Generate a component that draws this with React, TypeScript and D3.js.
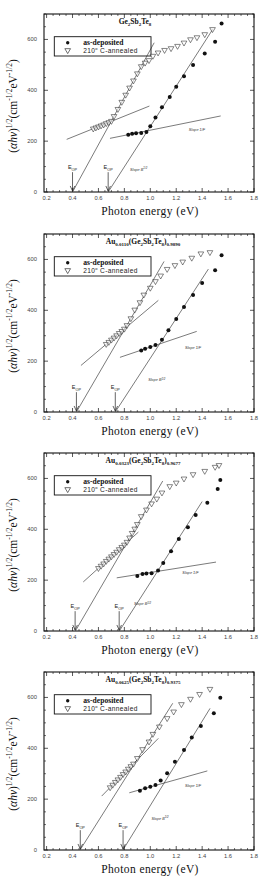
import React from "react";
import * as d3 from "d3";

// axis ticks
const xTicks = [0.2, 0.4, 0.6, 0.8, 1.0, 1.2, 1.4, 1.6, 1.8];
const yTicks = [0, 200, 400, 600];

// panel 1: Ge2Sb2Te8
const asDep1X = [0.83, 0.86, 0.89, 0.93, 0.97, 1.0, 1.04, 1.09, 1.15, 1.2, 1.26, 1.33, 1.42, 1.5, 1.55];
const asDep1Y = [225, 229, 231, 232, 236, 259, 293, 333, 374, 414, 455, 499, 545, 591, 663];
const ann1X = [0.56, 0.58, 0.6, 0.62, 0.64, 0.66, 0.68, 0.7, 0.72, 0.75, 0.78, 0.81, 0.84, 0.87, 0.9, 0.93, 0.96, 0.99, 1.02, 1.06, 1.11, 1.16, 1.21, 1.26, 1.31, 1.36, 1.42, 1.48];
const ann1Y = [249, 253, 257, 261, 265, 270, 274, 279, 298, 326, 354, 382, 410, 438, 466, 494, 508, 518, 535, 548, 558, 565, 574, 587, 600, 608, 620, 640];

// panel 2: Au0.0110
const asDep2X = [0.93, 0.96, 1.0, 1.04, 1.09, 1.14, 1.2, 1.26, 1.33, 1.4, 1.5, 1.55];
const asDep2Y = [242, 249, 256, 263, 284, 321, 366, 413, 460, 507, 557, 616];
const ann2X = [0.66, 0.68, 0.7, 0.72, 0.74, 0.76, 0.78, 0.8, 0.82, 0.85, 0.88, 0.92, 0.95, 1.0, 1.04, 1.08, 1.13, 1.19, 1.25, 1.32, 1.39, 1.46];
const ann2Y = [267, 275, 284, 292, 301, 310, 318, 327, 341, 368, 402, 431, 461, 488, 514, 536, 562, 577, 591, 606, 623, 628];

// panel 3: Au0.0323
const asDep3X = [0.9, 0.94, 0.97, 1.01, 1.06, 1.1, 1.16, 1.22, 1.29, 1.35, 1.44, 1.52, 1.54];
const asDep3Y = [216, 224, 226, 227, 238, 267, 314, 362, 408, 456, 504, 558, 594];
const ann3X = [0.6, 0.62, 0.64, 0.66, 0.68, 0.7, 0.72, 0.74, 0.76, 0.78, 0.8, 0.82, 0.84, 0.86, 0.88, 0.9, 0.93, 0.97, 1.01, 1.05, 1.09, 1.15, 1.2, 1.26, 1.33, 1.42, 1.5, 1.53];
const ann3Y = [247, 256, 265, 275, 284, 293, 302, 311, 321, 330, 339, 350, 367, 385, 402, 420, 451, 477, 501, 520, 544, 569, 583, 599, 616, 629, 645, 652];

// panel 4: Au0.0625
const asDep4X = [0.92, 0.96, 1.0, 1.04, 1.08, 1.13, 1.19, 1.26, 1.32, 1.39, 1.49, 1.54];
const asDep4Y = [233, 243, 249, 256, 273, 302, 347, 393, 442, 488, 538, 599];
const ann4X = [0.69, 0.71, 0.73, 0.75, 0.77, 0.79, 0.81, 0.83, 0.85, 0.87, 0.9, 0.94, 0.99, 1.02, 1.07, 1.13, 1.18, 1.24, 1.31, 1.38, 1.46];
const ann4Y = [246, 256, 267, 277, 287, 298, 308, 319, 329, 339, 361, 396, 426, 456, 485, 518, 544, 573, 594, 613, 633];

// fitted lines [x1, y1, x2, y2]: annealed steep, annealed tangent, as-dep steep, as-dep tangent
const fits1 = [[0.4, 0, 1.03, 587], [0.355, 207, 0.993, 338], [0.675, 0, 1.482, 640], [0.689, 211, 1.543, 299]];
const fits2 = [[0.43, 0, 1.106, 592], [0.465, 183, 1.062, 439], [0.73, 0, 1.448, 562], [0.766, 215, 1.358, 317]];
const fits3 = [[0.422, 0, 1.096, 590], [0.483, 193, 0.908, 389], [0.761, 0, 1.4, 509], [0.741, 209, 1.507, 271]];
const fits4 = [[0.458, 0, 1.173, 577], [0.625, 212, 1.062, 439], [0.789, 0, 1.461, 557], [0.838, 225, 1.44, 311]];

// E_OP arrows
const eop1 = [0.4, 0.675];
const eop2 = [0.43, 0.73];
const eop3 = [0.42, 0.76];
const eop4 = [0.46, 0.79];

// annotation positions [x, y]
const slopeF = [[1.36, 241], [1.33, 248], [1.31, 226], [1.33, 247]];
const slopeB = [[0.91, 84], [1.05, 120], [0.94, 101], [1.075, 118]];

type Seg = { t: string; s?: "sub" | "sup"; i?: boolean };

const gst: Seg[] = [
  { t: "Ge" }, { t: "2", s: "sub" }, { t: "Sb" }, { t: "2", s: "sub" }, { t: "Te" }, { t: "8", s: "sub" },
];
const auTitle = (a: string, b: string): Seg[] => [
  { t: "Au" }, { t: a, s: "sub" }, { t: "(Ge" }, { t: "2", s: "sub" }, { t: "Sb" }, { t: "2", s: "sub" },
  { t: "Te" }, { t: "8", s: "sub" }, { t: ")" }, { t: b, s: "sub" },
];
const titles = [gst, auTitle("0.0110", "0.9890"), auTitle("0.0323", "0.9677"), auTitle("0.0625", "0.9375")];
const titleX = [135, 143, 143, 143];

const yLabel: Seg[] = [
  { t: "(" }, { t: "αhν", i: true }, { t: ")" }, { t: "1/2", s: "sup" }, { t: "(cm" }, { t: "-1/2", s: "sup" },
  { t: "eV" }, { t: "-1/2", s: "sup" }, { t: ")" },
];

const SERIF = "'Liberation Serif', 'DejaVu Serif', serif";
const SANS = "'Liberation Sans', Arial, sans-serif";

const Rich = ({ segs, size, small, ...rest }: any) => {
  let cur = 0;
  return (
    <text {...rest} fontSize={size}>
      {segs.map((sg: Seg, k: number) => {
        const target = sg.s === "sub" ? small * 0.45 : sg.s === "sup" ? -size * 0.42 : 0;
        const dy = target - cur;
        cur = target;
        return (
          <tspan key={k} dy={dy} fontSize={sg.s ? small : size} fontStyle={sg.i ? "italic" : undefined}>
            {sg.t}
          </tspan>
        );
      })}
    </text>
  );
};

const L = 44;
const R = 254;
const PH = 178;

const Panel = ({ idx, top, asX, asY, anX, anY, fits, eop }: any) => {
  const x = d3.scaleLinear().domain([0.18, 1.8]).range([L, R]);
  const y = d3.scaleLinear().domain([0, 700]).range([top + PH, top]);
  const bottom = top + PH;
  const xMinor = d3.range(0.2, 1.8001, 0.05).filter((v) => Math.abs(v * 5 - Math.round(v * 5)) > 0.01);
  const yMinor = d3.range(0, 701, 50).filter((v) => v % 200 !== 0);
  const tri = d3.symbol().type(d3.symbolTriangle).size(14)();
  const stroke = "#222";

  return (
    <g>
      {/* frame */}
      <rect x={L} y={top} width={R - L} height={PH} fill="none" stroke="#111" strokeWidth={1.1} />
      {/* ticks */}
      {xTicks.map((t) => (
        <g key={"xt" + t}>
          <line x1={x(t)} x2={x(t)} y1={bottom} y2={bottom - 4} stroke="#111" strokeWidth={0.7} />
          <line x1={x(t)} x2={x(t)} y1={top} y2={top + 4} stroke="#111" strokeWidth={0.7} />
          <text x={x(t)} y={bottom + 8} fontSize={5.8} textAnchor="middle" fill="#444" fontFamily={SANS}>
            {t.toFixed(1)}
          </text>
        </g>
      ))}
      {xMinor.map((t) => (
        <g key={"xm" + t}>
          <line x1={x(t)} x2={x(t)} y1={bottom} y2={bottom - 2} stroke="#111" strokeWidth={0.6} />
          <line x1={x(t)} x2={x(t)} y1={top} y2={top + 2} stroke="#111" strokeWidth={0.6} />
        </g>
      ))}
      {yTicks.map((t) => (
        <g key={"yt" + t}>
          <line x1={L} x2={L + 4} y1={y(t)} y2={y(t)} stroke="#111" strokeWidth={0.7} />
          <line x1={R} x2={R - 4} y1={y(t)} y2={y(t)} stroke="#111" strokeWidth={0.7} />
          <text x={37} y={y(t) + 2} fontSize={5.8} textAnchor="end" fill="#444" fontFamily={SANS}>
            {t}
          </text>
        </g>
      ))}
      {yMinor.map((t) => (
        <g key={"ym" + t}>
          <line x1={L} x2={L + 2} y1={y(t)} y2={y(t)} stroke="#111" strokeWidth={0.6} />
          <line x1={R} x2={R - 2} y1={y(t)} y2={y(t)} stroke="#111" strokeWidth={0.6} />
        </g>
      ))}

      {/* title */}
      <Rich segs={titles[idx]} size={7.5} small={5} x={titleX[idx]} y={top + 9.5} textAnchor="middle"
        fontWeight="bold" fontFamily={SERIF} fill="#111" />

      {/* legend */}
      <rect x={54.3} y={top + 22.7} width={96.7} height={19.3} fill="white" stroke="#111" strokeWidth={0.9} />
      <circle cx={67.7} cy={top + 28.7} r={1.7} fill="#111" />
      <path d={tri} transform={`translate(67.7,${top + 36.3}) rotate(180)`} fill="white" stroke="#111" strokeWidth={0.6} />
      <text x={83.3} y={top + 31} fontSize={7.6} fontWeight="bold" fontFamily={SERIF} fill="#111">
        as-deposited
      </text>
      <text x={83.3} y={top + 38.6} fontSize={6.6} fontFamily={SANS} fill="#222" letterSpacing={0.35}>
        210<tspan fontSize={4} dy={-2.5}>o</tspan><tspan dy={2.5}> C-annealed</tspan>
      </text>

      {/* fit lines */}
      {fits.map((f: number[], k: number) => (
        <line key={"f" + k} x1={x(f[0])} y1={y(f[1])} x2={x(f[2])} y2={y(f[3])} stroke={stroke} strokeWidth={0.6} />
      ))}

      {/* E_OP arrows */}
      {eop.map((e: number, k: number) => (
        <g key={"e" + k}>
          <line x1={x(e)} x2={x(e)} y1={y(78)} y2={y(4)} stroke={stroke} strokeWidth={0.7} />
          <path d={`M${x(e) - 2.3},${y(4) - 5} L${x(e)},${y(4)} L${x(e) + 2.3},${y(4) - 5}`} fill="none" stroke={stroke} strokeWidth={0.7} />
          <Rich segs={[{ t: "E" }, { t: "OP", s: "sub" }]} size={5.5} small={3.8} x={x(e)} y={y(90)} textAnchor="middle"
            fontFamily={SANS} fill="#222" />
        </g>
      ))}

      {/* slope annotations */}
      <text x={x(slopeF[idx][0])} y={y(slopeF[idx][1])} fontSize={3.8} fontStyle="italic" textAnchor="middle"
        fontFamily={SANS} fill="#333">
        Slope 1/F
      </text>
      <Rich segs={[{ t: "Slope B" }, { t: "1/2", s: "sup" }]} size={3.8} small={2.8} x={x(slopeB[idx][0])} y={y(slopeB[idx][1])}
        textAnchor="middle" fontStyle="italic" fontFamily={SANS} fill="#333" />

      {/* annealed: open down-triangles */}
      {anX.map((v: number, k: number) => (
        <path key={"a" + k} d={tri} transform={`translate(${x(v)},${y(anY[k])}) rotate(180)`} fill="white" fillOpacity={0.6}
          stroke="#222" strokeWidth={0.55} />
      ))}
      {/* as-deposited: filled circles */}
      {asX.map((v: number, k: number) => (
        <circle key={"d" + k} cx={x(v)} cy={y(asY[k])} r={2} fill="#111" />
      ))}

      {/* axis labels */}
      <Rich segs={yLabel} size={11.5} small={7.5} x={0} y={0}
        transform={`translate(17,${top + 92}) rotate(-90)`} textAnchor="middle"
        fontFamily={SERIF} fill="#111" />
      <text x={150} y={bottom + 22.5} fontSize={11.5} textAnchor="middle" letterSpacing={0.4}
        fontFamily={SERIF} fill="#111">
        Photon energy (eV)
      </text>
    </g>
  );
};

const panelTops = [14, 234, 453, 672];

export default function App() {
  const panels = [
    { asX: asDep1X, asY: asDep1Y, anX: ann1X, anY: ann1Y, fits: fits1, eop: eop1 },
    { asX: asDep2X, asY: asDep2Y, anX: ann2X, anY: ann2Y, fits: fits2, eop: eop2 },
    { asX: asDep3X, asY: asDep3Y, anX: ann3X, anY: ann3Y, fits: fits3, eop: eop3 },
    { asX: asDep4X, asY: asDep4Y, anX: ann4X, anY: ann4Y, fits: fits4, eop: eop4 },
  ];
  return (
    <svg width={263} height={882} style={{ position: "absolute", left: 0, top: 0, background: "white" }}>
      {panels.map((p, i) => (
        <Panel key={i} idx={i} top={panelTops[i]} {...p} />
      ))}
    </svg>
  );
}
